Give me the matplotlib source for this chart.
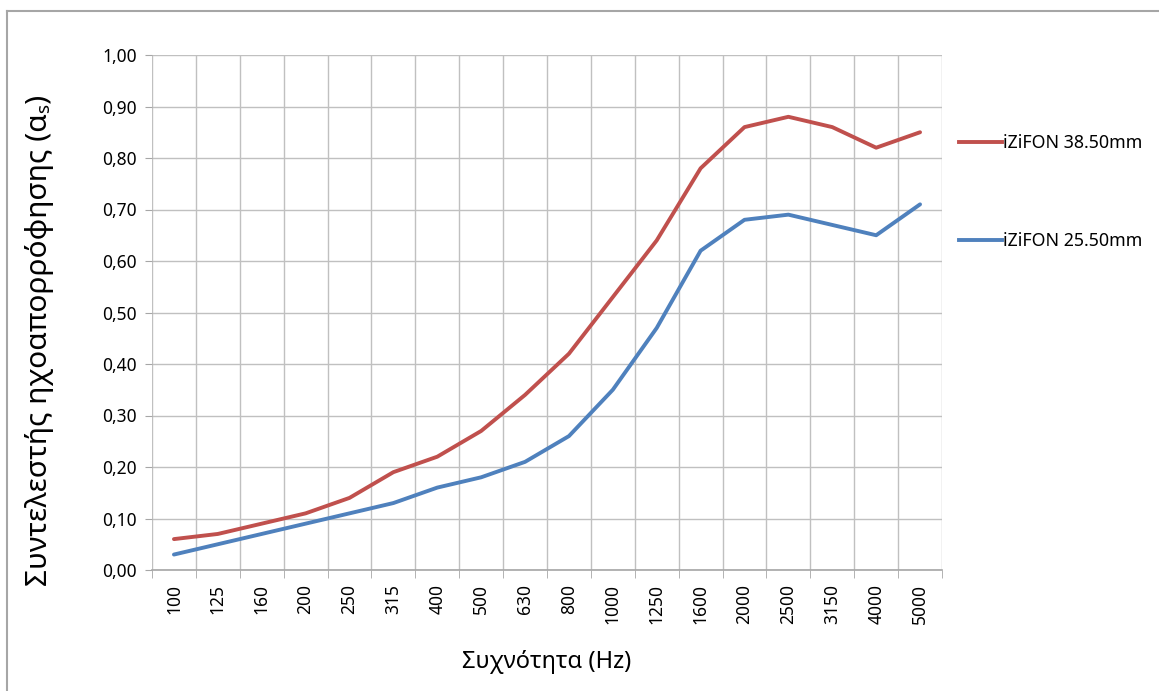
import matplotlib
matplotlib.use("Agg")
import matplotlib.pyplot as plt
from matplotlib.lines import Line2D

plt.rcParams['font.family'] = ['Noto Sans', 'DejaVu Sans']

# --- data ---
freqs = ["100", "125", "160", "200", "250", "315", "400", "500", "630", "800",
         "1000", "1250", "1600", "2000", "2500", "3150", "4000", "5000"]
izifon_38 = [0.06, 0.07, 0.09, 0.11, 0.14, 0.19, 0.22, 0.27, 0.34, 0.42,
             0.53, 0.64, 0.78, 0.86, 0.88, 0.86, 0.82, 0.85]
izifon_25 = [0.03, 0.05, 0.07, 0.09, 0.11, 0.13, 0.16, 0.18, 0.21, 0.26,
             0.35, 0.47, 0.62, 0.68, 0.69, 0.67, 0.65, 0.71]
series_names = ["iZiFON 38.50mm", "iZiFON 25.50mm"]
yticks = [i / 10 for i in range(11)]

red = "#c0504d"
blue = "#4f81bd"
grid = "#c0c0c0"

fig = plt.figure(figsize=(11.59, 6.91), dpi=100)
ax = fig.add_axes([152 / 1159, 1 - 570 / 691, (942 - 152) / 1159, (570 - 55) / 691])

x = list(range(len(freqs)))
ax.plot(x, izifon_38, color=red, lw=2.8, solid_capstyle="round", zorder=3)
ax.plot(x, izifon_25, color=blue, lw=2.8, solid_capstyle="round", zorder=3)

ax.set_xlim(-0.5, len(freqs) - 0.5)
ax.set_ylim(0, 1)

# category labels centred, gridlines between categories
ax.set_xticks(x)
ax.set_xticklabels(freqs, rotation=90, fontsize=12.5)
ax.set_xticks([i - 0.5 for i in range(len(freqs) + 1)], minor=True)
ax.tick_params(axis="x", which="major", length=0, pad=10)
ax.tick_params(axis="x", which="minor", length=6, color="#a6a6a6", direction="out")
ax.grid(True, which="minor", axis="x", color=grid, lw=1)

ax.set_yticks(yticks)
ax.set_yticklabels([f"{v:.2f}".replace(".", ",") for v in yticks], fontsize=12.5)
ax.tick_params(axis="y", length=5, color="#a6a6a6", direction="out", pad=6)
ax.grid(True, which="major", axis="y", color=grid, lw=1)
ax.set_axisbelow(True)

for s in ["top", "right", "left"]:
    ax.spines[s].set_visible(False)
ax.spines["bottom"].set_color("#a6a6a6")
ax.spines["bottom"].set_linewidth(1.2)

ax.set_xlabel("Συχνότητα (Hz)", fontsize=17, labelpad=19)
fig.text(40 / 1159, 1 - 340 / 691, "Συντελεστής ηχοαπορρόφησης (αₛ)",
         rotation=90, fontsize=21.5, ha="center", va="center")

# legend on the right
handles = [Line2D([], [], color=red, lw=2.8), Line2D([], [], color=blue, lw=2.8)]
fig.legend(handles, series_names, loc="center left",
           bbox_to_anchor=(943 / 1159, 1 - 192 / 691), frameon=False,
           fontsize=12.8, handlelength=2.4, handletextpad=0.1, labelspacing=4.5)

# outer chart border (only top and left visible in the crop)
fig.add_artist(Line2D([7 / 1159, 7 / 1159], [0, 1 - 11 / 691],
                      transform=fig.transFigure, color="#a6a6a6", lw=1.5))
fig.add_artist(Line2D([7 / 1159, 1], [1 - 11 / 691, 1 - 11 / 691],
                      transform=fig.transFigure, color="#a6a6a6", lw=1.5))

fig.savefig("out.png", dpi=100)
